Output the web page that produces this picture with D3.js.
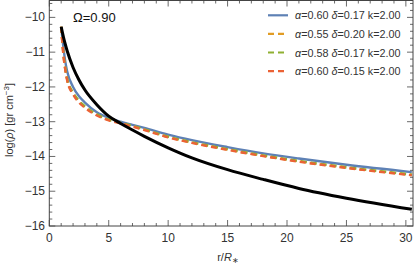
<!DOCTYPE html>
<meta charset="utf-8">
<script src="https://d3js.org/d3.v7.min.js"></script>
<style>
  body { margin: 0; background: #fff; }
  text { font-family: "Liberation Sans", Arial, sans-serif; }
</style>
<div id="chart"></div>
<script>

// radius in units of R*
var radius = [1, 1.1, 1.2, 1.35, 1.5, 2, 2.5, 3, 4, 5, 6, 7, 8, 10, 12, 15, 18, 21, 25, 30.5];

// log density of each model
var rhoBlack  = [-10.27, -10.43, -10.58, -10.78, -10.96, -11.44, -11.8, -12.09, -12.51, -12.84, -13.05, -13.24, -13.42, -13.75, -14.04, -14.38, -14.66, -14.92, -15.2, -15.52];
var rhoBlue   = [-10.27, -10.6, -10.9, -11.28, -11.55, -12.0, -12.27, -12.45, -12.73, -12.89, -13.0, -13.09, -13.18, -13.37, -13.53, -13.73, -13.91, -14.06, -14.24, -14.45];
var rhoOrange = [-10.27, -10.73, -11.1, -11.5, -11.78, -12.18, -12.42, -12.58, -12.8, -12.95, -13.04, -13.13, -13.23, -13.44, -13.6, -13.8, -13.98, -14.14, -14.32, -14.53];
var rhoGreen  = [-10.27, -10.71, -11.08, -11.48, -11.76, -12.16, -12.4, -12.56, -12.79, -12.94, -13.03, -13.12, -13.22, -13.43, -13.59, -13.79, -13.97, -14.13, -14.31, -14.52];
var rhoRed    = [-10.27, -10.75, -11.13, -11.53, -11.81, -12.21, -12.45, -12.6, -12.82, -12.96, -13.05, -13.14, -13.24, -13.45, -13.61, -13.81, -13.99, -14.15, -14.33, -14.54];

var legendLabels = [
  ["0.60", "0.17", "2.00"],
  ["0.55", "0.20", "2.00"],
  ["0.58", "0.17", "2.00"],
  ["0.60", "0.15", "2.00"]
];
var xTicks = [0, 5, 10, 15, 20, 25, 30];
var yTicks = [-16, -15, -14, -13, -12, -11, -10];

var W = 415, H = 267;
var pLeft = 49.3, pRight = 413, pTop = 0.5, pBottom = 226;

var svg = d3.select("#chart").append("svg")
    .attr("width", W)
    .attr("height", H);

var x = d3.scaleLinear().domain([0, 30.6]).range([pLeft, pRight]);
var y = d3.scaleLinear().domain([-16, -9.5]).range([pBottom, 0]);

// clip the curves to the frame
svg.append("clipPath").attr("id", "plotclip")
  .append("rect")
    .attr("x", pLeft).attr("y", pTop)
    .attr("width", pRight - pLeft).attr("height", pBottom - pTop);

var series = [
  {vals: rhoBlue, color: "#5E81B5", dash: null, w: 2.4},
  {vals: rhoOrange, color: "#E19C24", dash: "6,4", w: 2.4},
  {vals: rhoGreen, color: "#8FB032", dash: "6,4", w: 2.4},
  {vals: rhoRed, color: "#EB6235", dash: "6,4", w: 2.4},
  {vals: rhoBlack, color: "#000", dash: null, w: 3}
];

var line = d3.line()
  .x(function(d, i) { return x(radius[i]); })
  .y(function(d) { return y(d); })
  .curve(d3.curveMonotoneX);

var g = svg.append("g").attr("clip-path", "url(#plotclip)");
series.forEach(function(s) {
  g.append("path")
    .attr("d", line(s.vals))
    .attr("fill", "none")
    .attr("stroke", s.color)
    .attr("stroke-width", s.w)
    .attr("stroke-dasharray", s.dash);
});

// frame
svg.append("rect")
  .attr("x", pLeft).attr("y", pTop)
  .attr("width", pRight - pLeft).attr("height", pBottom - pTop)
  .attr("fill", "none")
  .attr("stroke", "#444")
  .attr("stroke-width", 1);

// ticks inward on all sides
var ticks = svg.append("g").attr("stroke", "#444").attr("stroke-width", 0.8);
d3.range(0, 31, 1).forEach(function(v) {
  var len = v % 5 === 0 ? 6 : 3;
  var px = x(v);
  ticks.append("line").attr("x1", px).attr("x2", px).attr("y1", pBottom).attr("y2", pBottom - len);
  ticks.append("line").attr("x1", px).attr("x2", px).attr("y1", pTop).attr("y2", pTop + len);
});
d3.range(-16, -9.4, 0.2).forEach(function(v) {
  var major = Math.abs(v - Math.round(v)) < 1e-6;
  var len = major ? 6 : 3;
  var py = y(v);
  ticks.append("line").attr("y1", py).attr("y2", py).attr("x1", pLeft).attr("x2", pLeft + len);
  ticks.append("line").attr("y1", py).attr("y2", py).attr("x1", pRight).attr("x2", pRight - len);
});

// tick labels
svg.selectAll(".xl").data(xTicks).enter().append("text")
  .attr("x", function(d) { return x(d); })
  .attr("y", 242)
  .attr("text-anchor", "middle")
  .attr("font-size", 12)
  .attr("fill", "#333")
  .text(function(d) { return d; });

svg.selectAll(".yl").data(yTicks).enter().append("text")
  .attr("x", 45)
  .attr("y", function(d) { return y(d) + 4; })
  .attr("text-anchor", "end")
  .attr("font-size", 12)
  .attr("fill", "#333")
  .text(function(d) { return "\u2212" + Math.abs(d); });

// axis labels
var xl = svg.append("text")
  .attr("x", 228).attr("y", 261)
  .attr("text-anchor", "middle")
  .attr("font-size", 11)
  .attr("fill", "#333");
xl.append("tspan").text("r/");
xl.append("tspan").attr("font-style", "italic").text("R");
xl.append("tspan").attr("font-size", 8).attr("dy", 2).text("\u2217");

var yl = svg.append("text")
  .attr("transform", "translate(13,120) rotate(-90)")
  .attr("text-anchor", "middle")
  .attr("font-size", 11)
  .attr("fill", "#333");
yl.append("tspan").text("log(");
yl.append("tspan").attr("font-style", "italic").text("\u03c1");
yl.append("tspan").text(") [gr cm");
yl.append("tspan").attr("font-size", 8).attr("dy", -4).text("\u22123");
yl.append("tspan").attr("dy", 4).text("]");

// Omega label
svg.append("text")
  .attr("x", 73).attr("y", 22)
  .attr("font-size", 13)
  .attr("fill", "#111")
  .text("\u03a9=0.90");

// legend
var lg = svg.append("g");
legendLabels.forEach(function(lab, i) {
  var s = series[i];
  var ly = 15.3 + i * 18.6;
  lg.append("line")
    .attr("x1", 268).attr("x2", 288)
    .attr("y1", ly).attr("y2", ly)
    .attr("stroke", s.color)
    .attr("stroke-width", 2.2)
    .attr("stroke-dasharray", s.dash ? "6,4" : null);
  var t = lg.append("text")
    .attr("x", 295).attr("y", ly + 4)
    .attr("font-size", 10.8)
    .attr("fill", "#333");
  t.append("tspan").attr("font-style", "italic").text("\u03b1");
  t.append("tspan").text("=" + lab[0] + " ");
  t.append("tspan").attr("font-style", "italic").text("\u03b4");
  t.append("tspan").text("=" + lab[1] + " k=" + lab[2]);
});

</script>
